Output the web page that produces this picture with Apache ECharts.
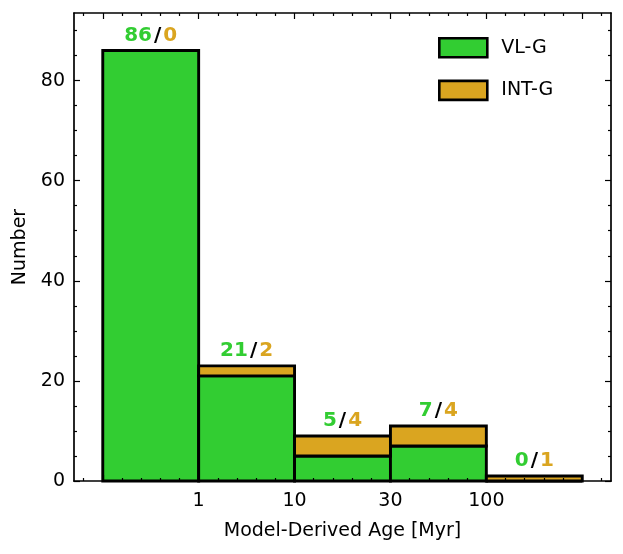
<!DOCTYPE html>
<html>
<head>
<meta charset="utf-8">
<script src="https://cdn.jsdelivr.net/npm/echarts@6/dist/echarts.min.js"></script>
<style>html,body{margin:0;padding:0;background:#fff}#c{width:623px;height:554px}</style>
</head>
<body>
<div id="c"></div>
<script>
// Data
var binCenters = [0.5, 1.5, 2.5, 3.5, 4.5];
var vlg = [86, 21, 5, 7, 0];
var intg = [0, 2, 4, 4, 1];
var xTickPos = [1, 2, 3, 4];
var xTickLabels = ['1', '10', '30', '100'];
var yTicks = [0, 20, 40, 60, 80];

var GREEN = '#32CD32', GOLD = '#DAA520';
var FONT = 'DejaVu Sans';

var xMajor = [0, 1, 2, 3, 4, 5];
var xMinor = [];
for (var i = -1; i <= 26; i++) { if (i % 5 !== 0) xMinor.push(Math.round(i * 0.2 * 10) / 10); }
var yMinor = [];
for (var v = 5; v <= 90; v += 5) { if (v % 20 !== 0) yMinor.push(v); }

function xAx(pos, ticks, len, showLine, labels) {
  return {
    type: 'value', position: pos, min: -0.3, max: 5.3,
    axisLine: { show: showLine, onZero: false, lineStyle: { color: '#000', width: 1.7 } },
    axisTick: { show: true, inside: true, length: len, customValues: ticks, lineStyle: { color: '#000', width: 1.2 } },
    axisLabel: labels ? { show: true, customValues: xTickPos, margin: 11,
      formatter: function (val) { var k = xTickPos.indexOf(Math.round(val)); return k >= 0 ? xTickLabels[k] : ''; },
      color: '#000', fontFamily: FONT, fontSize: 19 } : { show: false },
    splitLine: { show: false }, z: 10
  };
}
function yAx(pos, ticks, len, showLine, labels) {
  return {
    type: 'value', position: pos, min: 0, max: 93.5,
    axisLine: { show: showLine, onZero: false, lineStyle: { color: '#000', width: 1.7 } },
    axisTick: { show: true, inside: true, length: len, customValues: ticks, lineStyle: { color: '#000', width: 1.2 } },
    axisLabel: labels ? { show: true, customValues: yTicks, margin: 9, color: '#000', fontFamily: FONT, fontSize: 19 } : { show: false },
    splitLine: { show: false }, z: 10
  };
}

var xAxes = [xAx('bottom', xMajor, 6, true, true), xAx('bottom', xMinor, 3, false, false),
             xAx('top', xMajor, 6, true, false), xAx('top', xMinor, 3, false, false)];
xAxes[0].name = 'Model-Derived Age [Myr]';
xAxes[0].nameLocation = 'middle';
xAxes[0].nameGap = 41;
xAxes[0].nameTextStyle = { color: '#000', fontFamily: FONT, fontSize: 19 };

var yAxes = [yAx('left', yTicks, 6, true, true), yAx('left', yMinor, 3, false, false),
             yAx('right', yTicks, 6, true, false), yAx('right', yMinor, 3, false, false)];
yAxes[0].name = 'Number';
yAxes[0].nameLocation = 'middle';
yAxes[0].nameGap = 44;
yAxes[0].nameTextStyle = { color: '#000', fontFamily: FONT, fontSize: 19 };

function barRender(color) {
  return function (params, api) {
    var c = api.value(0), lo = api.value(1), hi = api.value(2);
    var p0 = api.coord([c - 0.5, hi]);
    var p1 = api.coord([c + 0.5, lo]);
    return {
      type: 'rect',
      shape: { x: p0[0], y: p0[1], width: p1[0] - p0[0], height: p1[1] - p0[1] },
      style: { fill: color, stroke: '#000', lineWidth: 2.9 }
    };
  };
}

function labelRender(params, api) {
  var i = params.dataIndex;
  var p = api.coord([api.value(0), api.value(1)]);
  return {
    type: 'text',
    x: p[0], y: p[1] - 15,
    style: {
      text: '{g|' + vlg[i] + '}{k|/}{o|' + intg[i] + '}',
      align: 'center', verticalAlign: 'middle',
      rich: {
        g: { fill: GREEN, fontFamily: FONT, fontWeight: 'bold', fontSize: 20 },
        k: { fill: '#000', fontFamily: FONT, fontWeight: 'bold', fontSize: 20, padding: [0, 2, 0, 2] },
        o: { fill: GOLD, fontFamily: FONT, fontWeight: 'bold', fontSize: 20 }
      }
    }
  };
}

var chart = echarts.init(document.getElementById('c'), null, { renderer: 'canvas' });
chart.setOption({
  animation: false,
  backgroundColor: '#fff',
  grid: { left: 74, right: 12, top: 13, bottom: 73, containLabel: false },
  xAxis: xAxes,
  yAxis: yAxes,
  legend: {
    orient: 'vertical', left: 438, top: 37, padding: 0, itemWidth: 48, itemHeight: 19, itemGap: 21, icon: 'rect',
    textStyle: { color: '#000', fontFamily: FONT, fontSize: 19, padding: [0, 0, 0, 9] },
    data: [
      { name: 'VL-G', itemStyle: { color: GREEN, borderColor: '#000', borderWidth: 2.6 } },
      { name: 'INT-G', itemStyle: { color: GOLD, borderColor: '#000', borderWidth: 2.6 } }
    ]
  },
  series: [
    {
      name: 'VL-G', type: 'custom', z: 2, renderItem: barRender(GREEN),
      itemStyle: { color: GREEN },
      encode: { x: 0, y: 2 },
      data: binCenters.map(function (c, i) { return [c, 0, vlg[i]]; })
    },
    {
      name: 'INT-G', type: 'custom', z: 3, renderItem: barRender(GOLD),
      itemStyle: { color: GOLD },
      encode: { x: 0, y: 2 },
      data: binCenters.map(function (c, i) { return [c, vlg[i], vlg[i] + intg[i]]; })
    },
    {
      name: 'labels', type: 'custom', z: 4, renderItem: labelRender,
      encode: { x: 0, y: 1 },
      data: binCenters.map(function (c, i) { return [c, vlg[i] + intg[i]]; })
    }
  ]
});
</script>
</body>
</html>
